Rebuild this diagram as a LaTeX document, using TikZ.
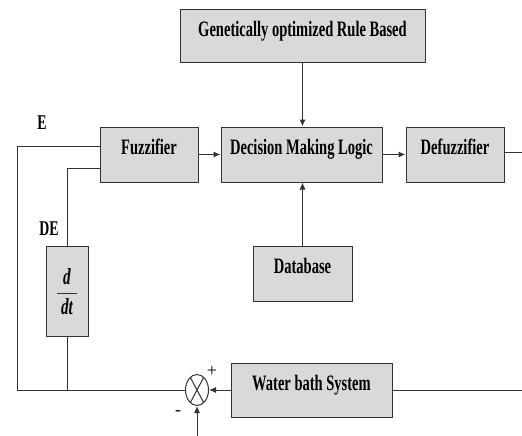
\documentclass[tikz,border=0pt]{standalone}
\usepackage{fontspec}
\setmainfont{Liberation Serif}
\newfontfamily\diagfont[FakeStretch=0.66]{Liberation Serif}
\usetikzlibrary{arrows.meta,shapes.geometric}
\definecolor{boxfill}{RGB}{217,217,217}
\definecolor{linecol}{RGB}{50,50,50}
\tikzset{
  blk/.style={draw=linecol, line width=1pt, fill=boxfill, rectangle, inner sep=0pt,
    font=\diagfont\bfseries\fontsize{22}{24}\selectfont, text height=11pt, text depth=11pt},
  wire/.style={draw=linecol, line width=1pt},
  arr/.style={wire, -{Latex[length=7pt,width=6pt]}},
  lbl/.style={font=\diagfont\bfseries\fontsize{21}{23}\selectfont, inner sep=0pt, anchor=base},
}
\begin{document}
\begin{tikzpicture}[x=1pt,y=-1pt]
\useasboundingbox (0,0) rectangle (522,436);
\node[blk, minimum width=245pt, minimum height=53pt] (gen) at (302.5,36.5) {Genetically optimized Rule Based};
\node[blk, minimum width=98pt, minimum height=55pt] (fuzz) at (149,154.5) {Fuzzifier};
\node[blk, minimum width=161pt, minimum height=55pt] (dml) at (301.5,154.5) {Decision Making Logic};
\node[blk, minimum width=98pt, minimum height=55pt] (defuzz) at (455,154.5) {Defuzzifier};
\node[blk, minimum width=99pt, minimum height=55pt] (db) at (302.5,273.5) {Database};
\node[blk, minimum width=42pt, minimum height=90pt, text height=0pt, text depth=0pt] (ddt) at (67,291) {};
\node[blk, minimum width=161pt, minimum height=54pt] (water) at (311.5,390) {Water bath System};
\node[draw=linecol, line width=1pt, fill=white, ellipse, minimum width=23pt, minimum height=31pt, inner sep=0pt] (sum) at (197,390) {};
\draw[wire] (sum.62) -- (sum.242) (sum.118) -- (sum.298);

% d/dt
\node[inner sep=0pt, font=\diagfont\bfseries\itshape\fontsize{23}{25}\selectfont] (dd) at (67,277) {d};
\node[inner sep=0pt, font=\diagfont\bfseries\itshape\fontsize{23}{25}\selectfont] (ddd) at (67,307) {dt};
\draw[wire] (57,293) -- (77,293);

% labels
\node[lbl] (elbl) at (42,129) {E};
\node[lbl] (delbl) at (49,235) {DE};
\node[inner sep=0pt, font=\fontsize{18}{20}\selectfont] (plus) at (212,371) {+};
\node[inner sep=0pt, font=\fontsize{18}{20}\selectfont] (minus) at (178,413) {-};

% coordinates
\coordinate (eR) at ([yshift=8.5pt]fuzz.west);
\coordinate (deR) at ([yshift=-13.5pt]fuzz.west);
\coordinate (eTop) at (17,146);
\coordinate (eBot) at (17,390);
\coordinate (deTop) at (67,168);
\coordinate (ddtBot) at (67,390);
\coordinate (rightTop) at (522,152);
\coordinate (rightBot) at (522,390);
\coordinate (refIn) at (197,436);

% connectors
\draw[arr] (gen.south) -- (gen.south |- dml.north);
\draw[arr] (db.north) -- (db.north |- dml.south);
\draw[arr] (fuzz.east) -- (dml.west);
\draw[arr] (dml.east) -- (defuzz.west);
\draw[wire] (defuzz.east |- rightTop) -- (rightTop);
\draw[wire] (water.east) -- (rightBot);
\draw[arr] (water.west) -- (sum.east);
\draw[arr] (refIn) -- (sum.south);
\draw[wire] (eR) -- (eTop) -- (eBot) -- (sum.west);
\draw[wire] (deR) -- (deTop) -- (ddt.north);
\draw[wire] (ddt.south) -- (ddtBot);
\end{tikzpicture}
\end{document}
